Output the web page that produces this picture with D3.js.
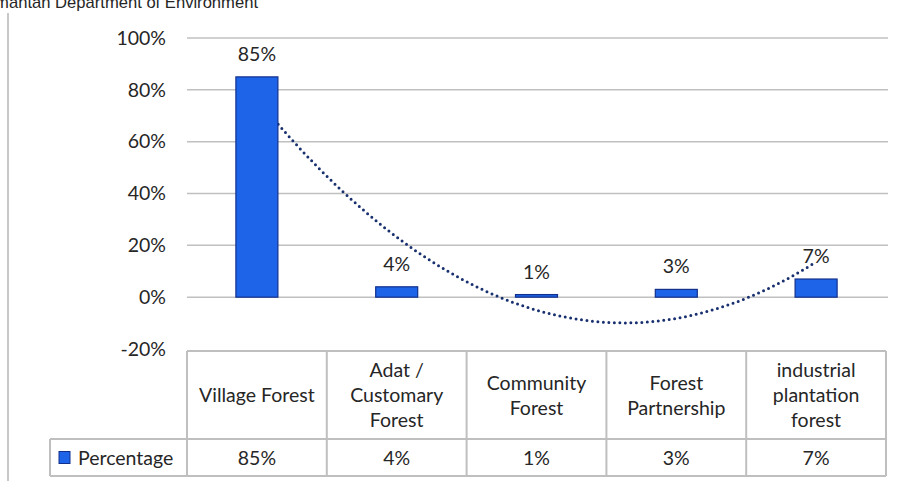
<!DOCTYPE html>
<html>
<head>
<meta charset="utf-8">
<script src="https://cdn.jsdelivr.net/npm/d3@7"></script>
<style>
  body { margin: 0; background: #fff; }
  svg { display: block; }
  text { font-family: Lato, "Noto Sans", sans-serif; fill: #262626; }
</style>
</head>
<body>
<div id="chart"></div>
<script>
// data
const categories = ['Village Forest', 'Adat / Customary Forest', 'Community Forest', 'Forest Partnership', 'industrial plantation forest'];
const headerLines = [['Village Forest'], ['Adat /', 'Customary', 'Forest'], ['Community', 'Forest'], ['Forest', 'Partnership'], ['industrial', 'plantation', 'forest']];
const percentage = [85, 4, 1, 3, 7];
const yTicks = [-20, 0, 20, 40, 60, 80, 100];
const seriesName = 'Percentage';
const sourceText = 'Source: West Kalimantan Department of Environment';

const W = 901, H = 481;
const fontSize = 19.5;

const svg = d3.select('#chart').append('svg')
    .attr('width', W)
    .attr('height', H);

// source line, cut off at the top edge like the original
svg.append('text')
    .attr('x', 258)
    .attr('y', 8)
    .attr('text-anchor', 'end')
    .style('font-family', '"Liberation Sans", Arial, sans-serif')
    .style('font-size', '16.6px')
    .text(sourceText);

// grey rule on the left
svg.append('line')
    .attr('x1', 8).attr('x2', 8)
    .attr('y1', 13).attr('y2', H)
    .attr('stroke', '#c8c8c8')
    .attr('stroke-width', 2);

const xScale = d3.scaleBand()
    .domain(categories)
    .range([187, 886])
    .padding(0);

const yScale = d3.scaleLinear()
    .domain([-20, 100])
    .range([349, 38]);

// gridlines
svg.append('g')
  .selectAll('line')
  .data(yTicks.filter(d => d > -20))
  .join('line')
    .attr('x1', 187)
    .attr('x2', 888)
    .attr('y1', d => yScale(d))
    .attr('y2', d => yScale(d))
    .attr('stroke', '#c0c0c0')
    .attr('stroke-width', 1.5);

// y axis labels (axis line hidden)
const yAxis = svg.append('g')
    .attr('transform', 'translate(187,0)')
    .call(d3.axisLeft(yScale).tickValues(yTicks).tickSize(0).tickPadding(21).tickFormat(d => d + '%'));
yAxis.select('.domain').remove();
yAxis.selectAll('text')
    .style('font-family', 'Lato, "Noto Sans", sans-serif')
    .style('font-size', fontSize + 'px')
    .attr('fill', '#262626');

// polynomial (order 2) trendline, least squares fit of the series
const xs = percentage.map((d, i) => i + 1);
const n = xs.length;
const xm = d3.mean(xs);
const ts = xs.map(x => x - xm);
const s2 = d3.sum(ts, t => t * t);
const s4 = d3.sum(ts, t => t ** 4);
const sy = d3.sum(percentage);
const sty = d3.sum(ts, (t, i) => t * percentage[i]);
const st2y = d3.sum(ts, (t, i) => t * t * percentage[i]);
const b = sty / s2;
const c = (st2y - s2 * sy / n) / (s4 - s2 * s2 / n);
const a = (sy - c * s2) / n;
const fit = t => a + b * t + c * t * t;

const cx = i => xScale(categories[i]) + xScale.bandwidth() / 2;
const tMin = ts[0], tMax = ts[n - 1];
const trendPts = d3.range(0, 101).map(k => tMin + (tMax - tMin) * k / 100);
const pxPerT = (cx(n - 1) - cx(0)) / (tMax - tMin);

svg.append('path')
    .datum(trendPts)
    .attr('fill', 'none')
    .attr('stroke', '#18306f')
    .attr('stroke-width', 3)
    .attr('stroke-linecap', 'round')
    .attr('stroke-dasharray', '0 5.5')
    .attr('d', d3.line()
      .x(t => cx(0) + (t - tMin) * pxPerT)
      .y(t => yScale(fit(t)))
    );

// bars
const barW = 42;
svg.append('g')
  .selectAll('rect')
  .data(percentage)
  .join('rect')
    .attr('x', (d, i) => cx(i) - barW / 2)
    .attr('y', d => yScale(d))
    .attr('width', barW)
    .attr('height', d => yScale(0) - yScale(d))
    .attr('fill', '#1d64e8')
    .attr('stroke', '#12308c')
    .attr('stroke-width', 1.2);

// data labels
svg.append('g')
  .selectAll('text')
  .data(percentage)
  .join('text')
    .attr('x', (d, i) => cx(i))
    .attr('y', d => yScale(d) - 16)
    .attr('text-anchor', 'middle')
    .style('font-size', fontSize + 'px')
    .text(d => d + '%');

// data table
const tableTop = yScale(-20) + 2, headBottom = 439, tableBottom = 476;
const grid = svg.append('g')
    .attr('stroke', '#bfbfbf')
    .attr('stroke-width', 2)
    .attr('fill', 'none');

grid.append('line').attr('x1', 187).attr('x2', 886).attr('y1', tableTop).attr('y2', tableTop);
grid.append('line').attr('x1', 50).attr('x2', 886).attr('y1', headBottom).attr('y2', headBottom);
grid.append('line').attr('x1', 50).attr('x2', 886).attr('y1', tableBottom).attr('y2', tableBottom);
grid.append('line').attr('x1', 50).attr('x2', 50).attr('y1', headBottom).attr('y2', tableBottom);
grid.selectAll('.col')
  .data(categories.concat(['end']))
  .join('line')
    .attr('class', 'col')
    .attr('x1', (d, i) => i < n ? xScale(d) : 886)
    .attr('x2', (d, i) => i < n ? xScale(d) : 886)
    .attr('y1', tableTop)
    .attr('y2', tableBottom);

const headMid = (tableTop + headBottom) / 2;
const lineH = 25;
svg.append('g')
  .selectAll('text')
  .data(headerLines)
  .join('text')
    .attr('text-anchor', 'middle')
    .style('font-size', fontSize + 'px')
    .each(function (lines, i) {
      d3.select(this).selectAll('tspan')
        .data(lines)
        .join('tspan')
          .attr('x', cx(i))
          .attr('y', (l, j) => headMid + 7 + (j - (lines.length - 1) / 2) * lineH)
          .text(l => l);
    });

const valMid = (headBottom + tableBottom) / 2;
svg.append('g')
  .selectAll('text')
  .data(percentage)
  .join('text')
    .attr('x', (d, i) => cx(i))
    .attr('y', valMid + 7)
    .attr('text-anchor', 'middle')
    .style('font-size', fontSize + 'px')
    .text(d => d + '%');

// legend key in the table
svg.append('rect')
    .attr('x', 59)
    .attr('y', valMid - 6)
    .attr('width', 11)
    .attr('height', 12)
    .attr('fill', '#1d64e8')
    .attr('stroke', '#12308c')
    .attr('stroke-width', 1);

svg.append('text')
    .attr('x', 78)
    .attr('y', valMid + 7)
    .style('font-size', fontSize + 'px')
    .text(seriesName);
</script>
</body>
</html>
